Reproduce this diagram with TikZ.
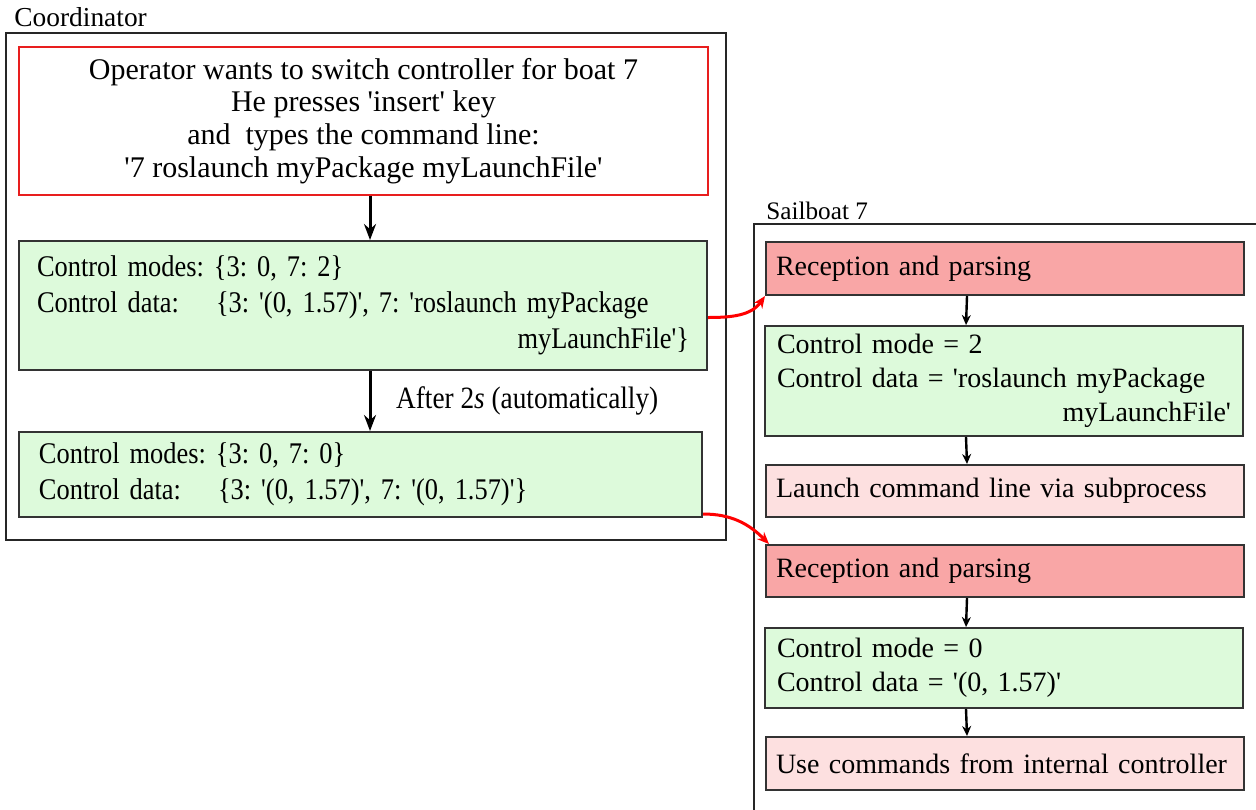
\documentclass[tikz,border=0pt]{standalone}
\usepackage{fontspec}
\setmainfont{Liberation Serif}[Ligatures=TeXOff]
\newfontfamily\condserif{Liberation Serif}[FakeStretch=0.88, Ligatures=TeXOff]
\usetikzlibrary{arrows.meta, positioning}
\frenchspacing

\definecolor{stategreen}{RGB}{221,250,219}
\definecolor{recvred}{RGB}{249,166,166}
\definecolor{actpink}{RGB}{253,224,224}
\definecolor{opred}{RGB}{232,30,30}

\begin{document}
\begin{tikzpicture}[
    x=0.5pt, y=-0.5pt,
    >=Stealth,
    every node/.style={font=\fontsize{14}{17}\selectfont},
    leftfont/.style={font=\condserif\fontsize{15}{18}\selectfont},
    panel/.style={draw=black!85, line width=0.8pt},
    opbox/.style={draw=opred, line width=0.8pt, fill=white, align=center,
      font=\fontsize{15}{16.4}\selectfont},
    statebox/.style={draw=black!80, line width=1pt, fill=stategreen, align=left, inner xsep=10pt},
    recvbox/.style={draw=black!80, line width=1pt, fill=recvred, align=left, inner xsep=5pt},
    actbox/.style={draw=black!80, line width=1pt, fill=actpink, align=left, inner xsep=5pt},
    flow/.style={->, line width=1.5pt, >={Stealth[length=8pt,width=6pt]}},
    tick/.style={->, line width=1.2pt, >={Stealth[length=5pt,width=4.5pt]}},
    link/.style={->, draw=red, line width=1.5pt, >={Stealth[length=6pt,width=5pt]}}
  ]
  \useasboundingbox (0,0) rectangle (1256,809);

  % ---- Coordinator ----
  \node[anchor=base west, inner sep=0pt, font=\fontsize{13.7}{16}\selectfont] (coordlbl) at (14,26) {Coordinator};
  \node[panel, anchor=north west, minimum width=360pt, minimum height=253.5pt] (coord) at (5,32) {};

  \node[opbox, minimum width=344.5pt, minimum height=74pt] (op) at (363.5,121)
    {Operator wants to switch controller for boat 7\\
     He presses 'insert' key\\
     and\ \ types the command line:\\
     '7 roslaunch myPackage myLaunchFile'};

  \node[statebox, leftfont, inner xsep=9pt, text width=326pt, minimum height=64.5pt] (g1) at (363,305.5)
    {Control modes: \{3: 0, 7: 2\}\\
     \makebox[89.5pt][l]{Control data:}\{3: '(0, 1.57)', 7: 'roslaunch myPackage\\
     \mbox{}\hfill myLaunchFile'\}};

  \node[statebox, leftfont, text width=321.5pt, minimum height=42.5pt] (g2) at (360.5,474.5)
    {Control modes: \{3: 0, 7: 0\}\\
     \makebox[89.5pt][l]{Control data:}\{3: '(0, 1.57)', 7: '(0, 1.57)'\}};

  \draw[flow] ([xshift=3.25pt]op.south) -- ([xshift=3.5pt]g1.north);
  \draw[flow] ([xshift=3.5pt]g1.south) -- ([xshift=4.75pt]g2.north)
    node[midway, right=9pt, font=\condserif\fontsize{15.5}{17}\selectfont] (after) {After 2\textit{s} (automatically)};

  % ---- Sailboat ----
  \node[anchor=base west, inner sep=0pt, font=\fontsize{12.6}{15}\selectfont] (boatlbl) at (766,219) {Sailboat 7};
  \coordinate (boatnw) at (754,224);
  \coordinate (boatsw) at (754,815);
  \coordinate (boatne) at (1262,224);
  \draw[panel] (boatsw) -- (boatnw) -- (boatne);

  \node[recvbox, text width=229pt, minimum height=26.5pt] (r1) at (1005,268.5) {Reception and parsing};
  \node[statebox, inner xsep=6pt, text width=227pt, minimum height=55pt] (g3) at (1004,381)
    {Control mode = 2\\
     Control data = 'roslaunch myPackage\\
     \mbox{}\hfill myLaunchFile'};
  \node[actbox, text width=229pt, minimum height=26pt] (p1) at (1005,491) {Launch command line via subprocess};

  \node[recvbox, text width=229pt, minimum height=26pt] (r2) at (1005,571) {Reception and parsing};
  \node[statebox, inner xsep=6pt, text width=227pt, minimum height=40pt] (g4) at (1004,668)
    {Control mode = 0\\
     Control data = '(0, 1.57)'};
  \node[actbox, text width=229pt, minimum height=26.5pt] (p2) at (1005,763.5) {Use commands from internal controller};

  \draw[tick] ([xshift=101pt]r1.south west) -- ([xshift=101pt]g3.north west);
  \draw[tick] ([xshift=101pt]g3.south west) -- ([xshift=101pt]p1.north west);
  \draw[tick] ([xshift=101pt]r2.south west) -- ([xshift=101pt]g4.north west);
  \draw[tick] ([xshift=101pt]g4.south west) -- ([xshift=101pt]p2.north west);

  % messages
  \draw[link] ([yshift=-6pt]g1.east) to[out=0, in=235] (r1.south west);
  \draw[link] ([yshift=2pt]g2.south east) to[out=0, in=135] ([xshift=2pt]r2.north west);
\end{tikzpicture}
\end{document}
